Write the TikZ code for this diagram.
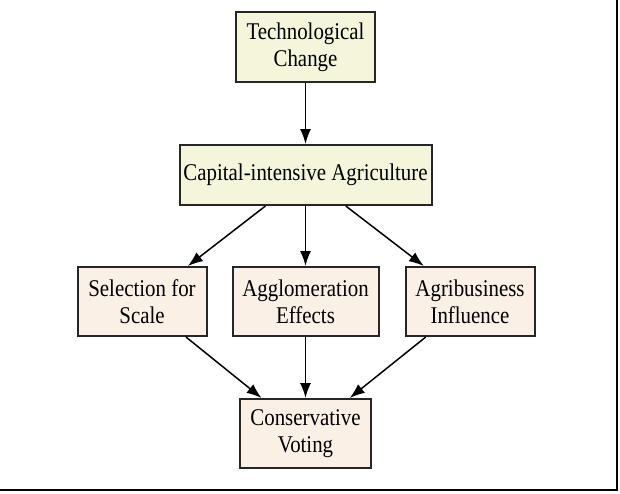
\documentclass[tikz,border=0pt]{standalone}
\usepackage{fontspec}
\setmainfont{Liberation Serif}[FakeStretch=0.87]
\usetikzlibrary{arrows.meta,positioning}
\definecolor{beigefill}{HTML}{F5F5DC}
\definecolor{linenfill}{HTML}{FAF0E6}
\definecolor{boxline}{HTML}{262626}
\tikzstyle{cause} = [rectangle, draw=boxline, line width=2pt, fill=beigefill, text=black, align=center, font=\fontsize{24}{27}\selectfont, inner sep=0pt]
\tikzstyle{channel} = [cause, fill=linenfill, minimum height=69pt]
\tikzstyle{link} = [draw, line width=1.5pt, -{Latex[length=15pt,width=11pt]}]
\begin{document}
\begin{tikzpicture}[x=1pt, y=-1pt]
\useasboundingbox (0,0) rectangle (620,493);

% nodes =============================
\node[cause, minimum width=139pt, minimum height=70pt] (tech) at (305.5,47) {Technological\\Change};
\node[cause, minimum width=252pt, minimum height=60pt, below=61pt of tech] (capital) {Capital-intensive Agriculture};
\node[channel, minimum width=146pt, below=60pt of capital] (agglom) {Agglomeration\\Effects};
\node[channel, minimum width=129pt, left=24pt of agglom] (scale) {Selection for\\Scale};
\node[channel, minimum width=129pt, right=25pt of agglom] (agri) {Agribusiness\\Influence};
\node[channel, minimum width=131pt, below=61pt of agglom] (vote) {Conservative\\Voting};

% edges
\path[link] (tech) -- (capital);
\path[link] (capital) -- (scale);
\path[link] (capital) -- (agglom);
\path[link] (capital) -- (agri);
\path[link] (scale) -- (vote);
\path[link] (agglom) -- (vote);
\path[link] (agri) -- (vote);

% frame
\draw[line width=2.4pt] (0,489.8) -- (617,489.8) -- (617,0);

\end{tikzpicture}
\end{document}
